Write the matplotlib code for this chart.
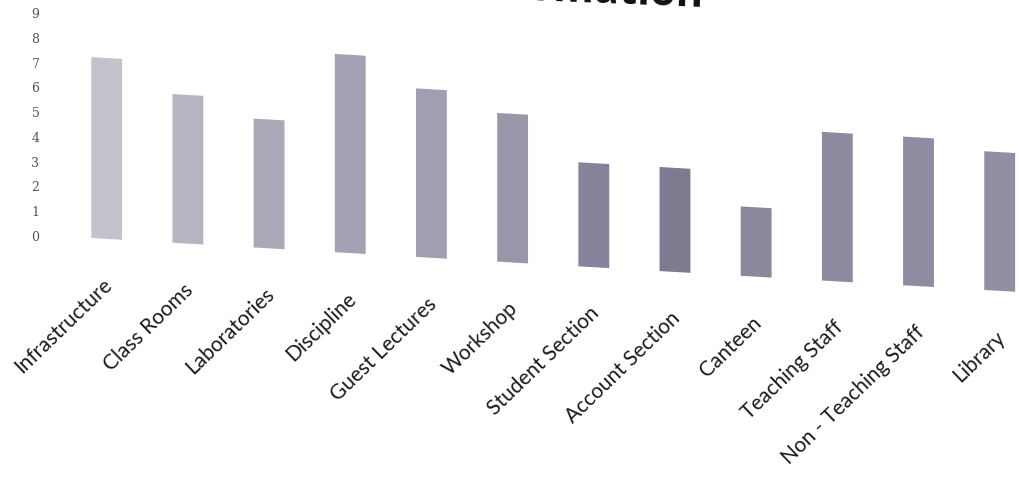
import numpy as np
import matplotlib
matplotlib.use("Agg")
import matplotlib.pyplot as plt
from matplotlib.transforms import Affine2D

categories = ["Infrastructure", "Class Rooms", "Laboratories", "Discipline",
              "Guest Lectures", "Workshop", "Student Section", "Account Section",
              "Canteen", "Teaching Staff", "Non - Teaching Staff", "Library"]
values = [7.3, 6.0, 5.2, 8.0, 6.8, 6.0, 4.2, 4.2, 2.8, 6.0, 6.0, 5.6]
yticks = list(range(0, 10))

# scanned page: bars fade from light to darker grey-violet
colors = ["#c4c3cc", "#b6b5c1", "#a9a8b6", "#a3a1b3", "#a09eb0", "#9896a8",
          "#86849a", "#7d7b8f", "#8a889b", "#8c8a9e", "#8e8ca0", "#9190a2"]

W, H = 1020, 485
fig = plt.figure(figsize=(W / 100, H / 100), dpi=100)
ax = fig.add_axes([45 / W, 249 / H, (W - 45) / W, 223 / H])

# the scan is slightly sheared: right side sits lower
slope = -0.0582
shear = Affine2D().translate(-40, 0).skew(0, np.arctan(slope)).translate(40, 0)
tr = ax.transData + shear

x = np.arange(len(categories))
bars = ax.bar(x, values, width=0.38, color=colors, linewidth=0)
for b in bars:
    b.set_transform(tr)
    b.set_clip_on(False)

ax.set_xlim(-0.76, 11.25)
ax.set_ylim(0, 9)
ax.set_yticks(yticks)
ax.set_yticklabels([str(t) for t in yticks], fontsize=9, color="#555555",
                   family="DejaVu Serif")
ax.tick_params(axis="y", length=0, pad=4)
ax.set_xticks([])
for s in ax.spines.values():
    s.set_visible(False)

for i, lab in enumerate(categories):
    ax.text(i + 0.03, -1.7, lab, transform=tr, rotation=44,
            rotation_mode="anchor", ha="right", va="center",
            fontsize=15, family="Lato", color="#1a1a1a", clip_on=False)

# title runs off the top of the scan, only its lower part shows
fig.text(703 / W, 478 / H, "Information", ha="right", va="baseline",
         rotation=-2.3, rotation_mode="anchor", fontsize=30,
         fontweight="bold", family="Open Sans", color="#111111")

fig.savefig("out.png", dpi=100)
